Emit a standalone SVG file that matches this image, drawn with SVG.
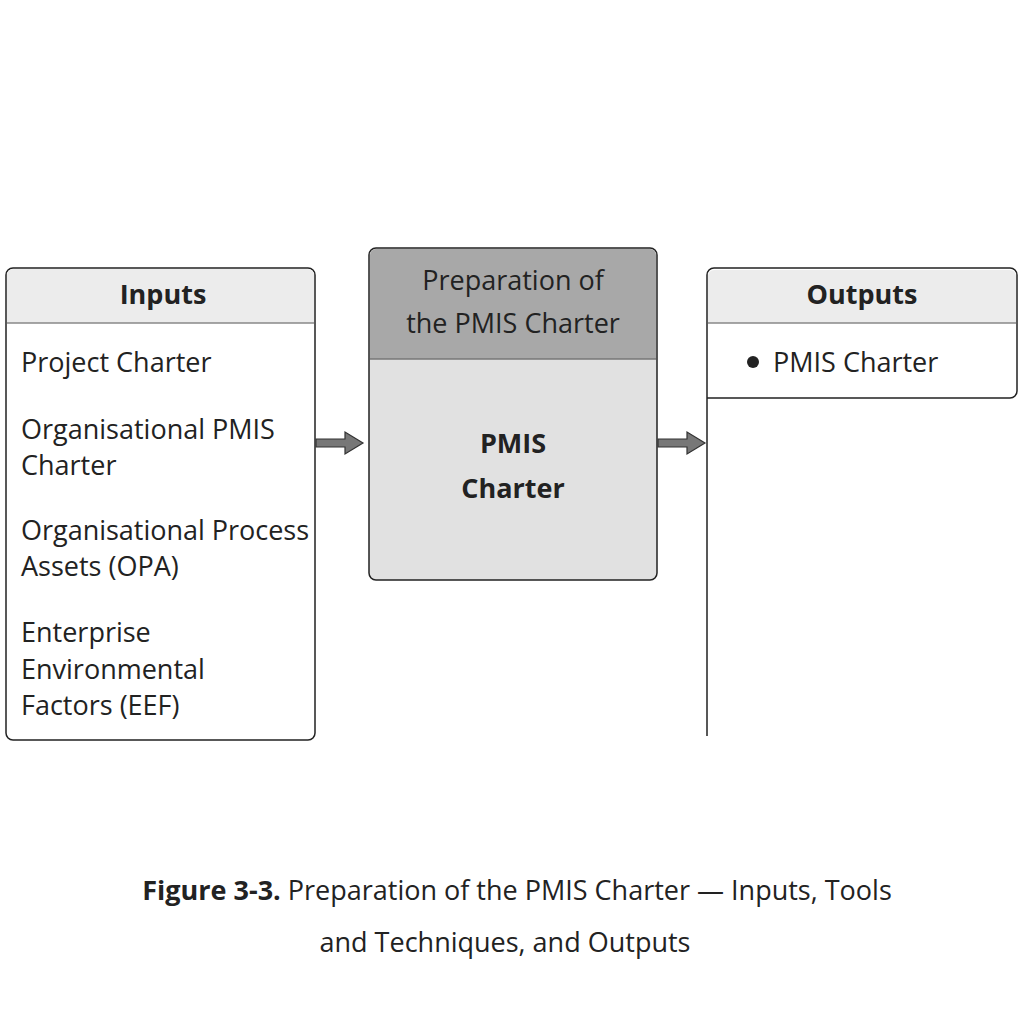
<svg xmlns="http://www.w3.org/2000/svg" width="1024" height="1024" viewBox="0 0 1024 1024">
<style>
.box{fill:#fff;stroke:#222;stroke-width:1.5}
.hdr{fill:#ececec}
.sep{stroke:#888;stroke-width:1.5}
.t{font-family:"Open Sans","Noto Sans",sans-serif;font-size:27px;fill:#222}
.b{font-weight:bold}
.arr{fill:#777;stroke:#333;stroke-width:1.2}
</style>
<rect width="1024" height="1024" fill="#fff"/>
<g id="inputs">
<rect class="box" x="6" y="268" width="309" height="472" rx="7"/>
<path class="hdr" d="M7 323V275a6 6 0 0 1 6-6H308a6 6 0 0 1 6 6V323z"/>
<line class="sep" x1="7" y1="323" x2="314" y2="323"/>
<text class="t b" x="163" y="304" text-anchor="middle">Inputs</text>
<text class="t" x="21" y="372">Project Charter</text>
<text class="t" x="21" y="439">Organisational PMIS</text>
<text class="t" x="21" y="475">Charter</text>
<text class="t" x="21" y="540" textLength="288">Organisational Process</text>
<text class="t" x="21" y="576">Assets (OPA)</text>
<text class="t" x="21" y="642">Enterprise</text>
<text class="t" x="21" y="679">Environmental</text>
<text class="t" x="21" y="715">Factors (EEF)</text>
</g>
<g id="process">
<rect x="369" y="248" width="288" height="332" rx="7" fill="#e1e1e1" stroke="#222" stroke-width="1.5"/>
<path d="M370 359V255a6 6 0 0 1 6-6H650a6 6 0 0 1 6 6V359z" fill="#a8a8a8"/>
<line x1="370" y1="359" x2="656" y2="359" stroke="#777" stroke-width="1.5"/>
<text class="t" x="513" y="290" text-anchor="middle">Preparation of</text>
<text class="t" x="513" y="333" text-anchor="middle">the PMIS Charter</text>
<text class="t b" x="513" y="453" text-anchor="middle" font-size="32">PMIS</text>
<text class="t b" x="513" y="498" text-anchor="middle" font-size="32">Charter</text>
</g>
<g id="outputs">
<path class="box" d="M707 736V275a7 7 0 0 1 7-7H1010a7 7 0 0 1 7 7V391a7 7 0 0 1-7 7H707"/>
<path class="hdr" d="M708 323V276a6 6 0 0 1 6-6H1010a6 6 0 0 1 6 6V323z"/>
<line class="sep" x1="708" y1="323" x2="1016" y2="323"/>
<text class="t b" x="862" y="304" text-anchor="middle">Outputs</text>
<circle cx="753" cy="362" r="6" fill="#222"/>
<text class="t" x="773" y="372">PMIS Charter</text>
</g>
<g id="connectors">
<polygon class="arr" points="316,439 345,439 345,432 363,443 345,454 345,447 316,447"/>
<polygon class="arr" points="658,439 687,439 687,432 705,443 687,454 687,447 658,447"/>
</g>
<g id="caption">
<text class="t" x="517" y="900" text-anchor="middle" font-size="32"><tspan font-weight="bold">Figure 3-3.</tspan> Preparation of the PMIS Charter — Inputs, Tools</text>
<text class="t" x="505" y="952" text-anchor="middle" font-size="32">and Techniques, and Outputs</text>
</g>
</svg>
